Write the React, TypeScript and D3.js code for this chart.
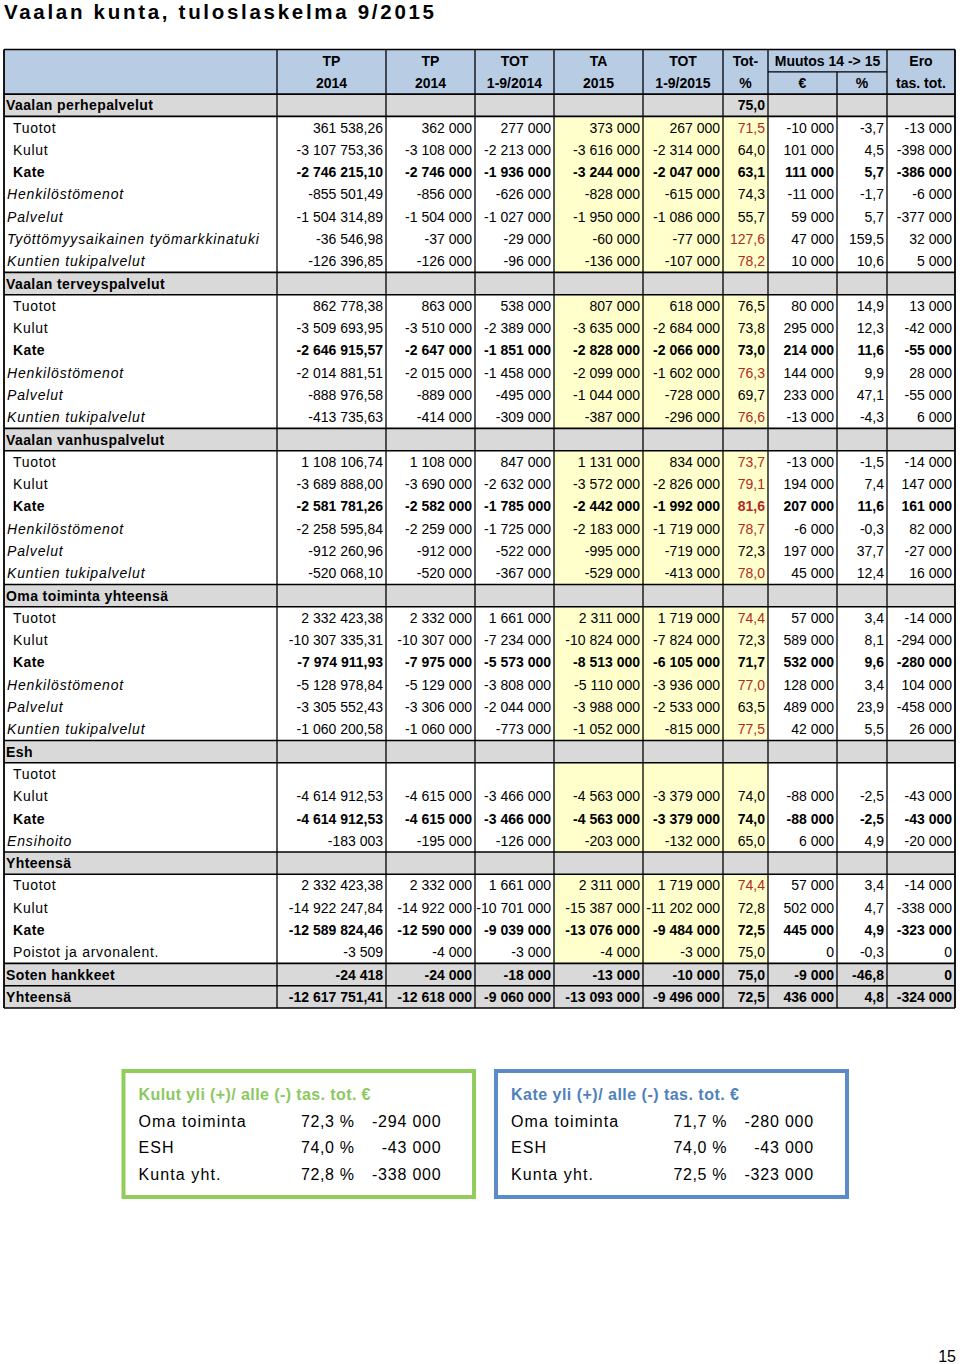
import React from "react";
import * as d3 from "d3";

// ---------- DATA ----------
const titleText = "Vaalan kunta, tuloslaskelma 9/2015";

const headerTop = ["TP", "TP", "TOT", "TA", "TOT", "Tot-", "Muutos 14 -> 15", "Ero"];
const headerBottom = ["2014", "2014", "1-9/2014", "2015", "1-9/2015", "%", "€", "%", "tas. tot."];

const rowLabels = [
  "Vaalan perhepalvelut",
  "Tuotot", "Kulut", "Kate", "Henkilöstömenot", "Palvelut", "Työttömyysaikainen työmarkkinatuki", "Kuntien tukipalvelut",
  "Vaalan terveyspalvelut",
  "Tuotot", "Kulut", "Kate", "Henkilöstömenot", "Palvelut", "Kuntien tukipalvelut",
  "Vaalan vanhuspalvelut",
  "Tuotot", "Kulut", "Kate", "Henkilöstömenot", "Palvelut", "Kuntien tukipalvelut",
  "Oma toiminta yhteensä",
  "Tuotot", "Kulut", "Kate", "Henkilöstömenot", "Palvelut", "Kuntien tukipalvelut",
  "Esh",
  "Tuotot", "Kulut", "Kate", "Ensihoito",
  "Yhteensä",
  "Tuotot", "Kulut", "Kate", "Poistot ja arvonalent.",
  "Soten hankkeet",
  "Yhteensä",
];

// row kinds: section | plain | bold | italic | total
const rowKinds = [
  "section",
  "plain", "plain", "bold", "italic", "italic", "italic", "italic",
  "section",
  "plain", "plain", "bold", "italic", "italic", "italic",
  "section",
  "plain", "plain", "bold", "italic", "italic", "italic",
  "section",
  "plain", "plain", "bold", "italic", "italic", "italic",
  "section",
  "plain", "plain", "bold", "italic",
  "section",
  "plain", "plain", "bold", "plain",
  "total",
  "total",
];

const tp2014Actual = [
  null,
  361538.26, -3107753.36, -2746215.1, -855501.49, -1504314.89, -36546.98, -126396.85,
  null,
  862778.38, -3509693.95, -2646915.57, -2014881.51, -888976.58, -413735.63,
  null,
  1108106.74, -3689888.0, -2581781.26, -2258595.84, -912260.96, -520068.1,
  null,
  2332423.38, -10307335.31, -7974911.93, -5128978.84, -3305552.43, -1060200.58,
  null,
  null, -4614912.53, -4614912.53, -183003,
  null,
  2332423.38, -14922247.84, -12589824.46, -3509,
  -24418,
  -12617751.41,
];
// rows of the first column shown in whole euros
const wholeEuroRows = [33, 38, 39];

const tp2014 = [
  null,
  362000, -3108000, -2746000, -856000, -1504000, -37000, -126000,
  null,
  863000, -3510000, -2647000, -2015000, -889000, -414000,
  null,
  1108000, -3690000, -2582000, -2259000, -912000, -520000,
  null,
  2332000, -10307000, -7975000, -5129000, -3306000, -1060000,
  null,
  null, -4615000, -4615000, -195000,
  null,
  2332000, -14922000, -12590000, -4000,
  -24000,
  -12618000,
];

const tot2014 = [
  null,
  277000, -2213000, -1936000, -626000, -1027000, -29000, -96000,
  null,
  538000, -2389000, -1851000, -1458000, -495000, -309000,
  null,
  847000, -2632000, -1785000, -1725000, -522000, -367000,
  null,
  1661000, -7234000, -5573000, -3808000, -2044000, -773000,
  null,
  null, -3466000, -3466000, -126000,
  null,
  1661000, -10701000, -9039000, -3000,
  -18000,
  -9060000,
];

const ta2015 = [
  null,
  373000, -3616000, -3244000, -828000, -1950000, -60000, -136000,
  null,
  807000, -3635000, -2828000, -2099000, -1044000, -387000,
  null,
  1131000, -3572000, -2442000, -2183000, -995000, -529000,
  null,
  2311000, -10824000, -8513000, -5110000, -3988000, -1052000,
  null,
  null, -4563000, -4563000, -203000,
  null,
  2311000, -15387000, -13076000, -4000,
  -13000,
  -13093000,
];

const tot2015 = [
  null,
  267000, -2314000, -2047000, -615000, -1086000, -77000, -107000,
  null,
  618000, -2684000, -2066000, -1602000, -728000, -296000,
  null,
  834000, -2826000, -1992000, -1719000, -719000, -413000,
  null,
  1719000, -7824000, -6105000, -3936000, -2533000, -815000,
  null,
  null, -3379000, -3379000, -132000,
  null,
  1719000, -11202000, -9484000, -3000,
  -10000,
  -9496000,
];

const totPct = [
  75.0,
  71.5, 64.0, 63.1, 74.3, 55.7, 127.6, 78.2,
  null,
  76.5, 73.8, 73.0, 76.3, 69.7, 76.6,
  null,
  73.7, 79.1, 81.6, 78.7, 72.3, 78.0,
  null,
  74.4, 72.3, 71.7, 77.0, 63.5, 77.5,
  null,
  null, 74.0, 74.0, 65.0,
  null,
  74.4, 72.8, 72.5, 75.0,
  75.0,
  72.5,
];

const muutosEur = [
  null,
  -10000, 101000, 111000, -11000, 59000, 47000, 10000,
  null,
  80000, 295000, 214000, 144000, 233000, -13000,
  null,
  -13000, 194000, 207000, -6000, 197000, 45000,
  null,
  57000, 589000, 532000, 128000, 489000, 42000,
  null,
  null, -88000, -88000, 6000,
  null,
  57000, 502000, 445000, 0,
  -9000,
  436000,
];

const muutosPct = [
  null,
  -3.7, 4.5, 5.7, -1.7, 5.7, 159.5, 10.6,
  null,
  14.9, 12.3, 11.6, 9.9, 47.1, -4.3,
  null,
  -1.5, 7.4, 11.6, -0.3, 37.7, 12.4,
  null,
  3.4, 8.1, 9.6, 3.4, 23.9, 5.5,
  null,
  null, -2.5, -2.5, 4.9,
  null,
  3.4, 4.7, 4.9, -0.3,
  -46.8,
  4.8,
];

const eroTasTot = [
  null,
  -13000, -398000, -386000, -6000, -377000, 32000, 5000,
  null,
  13000, -42000, -55000, 28000, -55000, 6000,
  null,
  -14000, 147000, 161000, 82000, -27000, 16000,
  null,
  -14000, -294000, -280000, 104000, -458000, 26000,
  null,
  null, -43000, -43000, -20000,
  null,
  -14000, -338000, -323000, 0,
  0,
  -324000,
];

const benchmarkPct = 75;

const boxLabels = ["Oma toiminta", "ESH", "Kunta yht."];
const kulutTitle = "Kulut yli (+)/ alle (-) tas. tot. €";
const kulutPct = [72.3, 74.0, 72.8];
const kulutEro = [-294000, -43000, -338000];
const kateTitle = "Kate yli (+)/ alle (-) tas. tot. €";
const katePct = [71.7, 74.0, 72.5];
const kateEro = [-280000, -43000, -323000];

const pageNumber = "15";

// ---------- LAYOUT ----------
const FONT = "'Liberation Sans', Arial, Helvetica, sans-serif";
const colEdges = [4, 277, 386, 475, 554, 643, 723, 768, 837, 887, 955];
const BLUE_HDR = "#B8CCE4";
const GREY = "#D9D9D9";
const YELLOW = "#FFFFCC";
const RED = "#B02A25";

const loc = d3.formatLocale({
  decimal: ",",
  thousands: " ",
  grouping: [3],
  currency: ["", " €"],
  minus: "-",
});
const f0 = loc.format(",.0f");
const f1 = loc.format(",.1f");
const f2 = loc.format(",.2f");

export default function App() {
  const y = d3
    .scaleBand<number>()
    .domain(d3.range(rowLabels.length + 2))
    .range([49.5, 1008])
    .paddingInner(0)
    .paddingOuter(0);
  const bw = y.bandwidth();
  const rowTop = (i: number) => y(i + 2) as number;
  const tableTop = y(0) as number;
  const headerMid = y(1) as number;
  const headerBottomY = y(2) as number;
  const tableBottom = 1008;
  const left = colEdges[0];
  const right = colEdges[colEdges.length - 1];

  const dataCols: { values: (number | null)[]; fmt: (v: number, i: number) => string }[] = [
    { values: tp2014Actual, fmt: (v, i) => (wholeEuroRows.includes(i) ? f0(v) : f2(v)) },
    { values: tp2014, fmt: (v) => f0(v) },
    { values: tot2014, fmt: (v) => f0(v) },
    { values: ta2015, fmt: (v) => f0(v) },
    { values: tot2015, fmt: (v) => f0(v) },
    { values: totPct, fmt: (v) => f1(v) },
    { values: muutosEur, fmt: (v) => f0(v) },
    { values: muutosPct, fmt: (v) => f1(v) },
    { values: eroTasTot, fmt: (v) => f0(v) },
  ];

  const isGreyRow = (i: number) => rowKinds[i] === "section" || rowKinds[i] === "total";

  const hLines: number[] = [tableTop, headerBottomY, tableBottom];
  rowKinds.forEach((k, i) => {
    if (k === "section" || k === "total") {
      hLines.push(rowTop(i));
      hLines.push(rowTop(i) + bw);
    }
  });
  const hUnique = Array.from(new Set(hLines.map((v) => Math.round(v * 10) / 10)));

  const boxRowY = d3.scalePoint<number>().domain([0, 1, 2]).range([1126.5, 1179.5]);

  const renderBox = (
    x0: number,
    x1: number,
    color: string,
    titleColor: string,
    title: string,
    pcts: number[],
    eros: number[],
    titleLen: number
  ) => {
    const tx = x0 + 15;
    return (
      <g>
        <rect x={x0} y={1071} width={x1 - x0} height={126} fill="#fff" stroke={color} strokeWidth={4} />
        <text
          x={tx}
          y={1100}
          fontFamily={FONT}
          fontSize={16}
          fontWeight="bold"
          fill={titleColor}
          textLength={titleLen}
          lengthAdjust="spacing"
        >
          {title}
        </text>
        {boxLabels.map((lab, i) => (
          <g key={lab}>
            <text x={tx} y={boxRowY(i)} fontFamily={FONT} fontSize={16} letterSpacing={1.1} fill="#000">
              {lab}
            </text>
            <text
              x={tx + 216}
              y={boxRowY(i)}
              fontFamily={FONT}
              fontSize={16}
              letterSpacing={0.6}
              textAnchor="end"
              fill="#000"
            >
              {f1(pcts[i]) + " %"}
            </text>
            <text
              x={tx + 303}
              y={boxRowY(i)}
              fontFamily={FONT}
              fontSize={16}
              letterSpacing={0.8}
              textAnchor="end"
              fill="#000"
            >
              {f0(eros[i])}
            </text>
          </g>
        ))}
      </g>
    );
  };

  return (
    <svg
      width={960}
      height={1364}
      style={{ position: "absolute", left: 0, top: 0, background: "#fff" }}
    >
      <rect x={0} y={0} width={960} height={1364} fill="#fff" />
      {/* Title */}
      <text
        x={4}
        y={19}
        fontFamily={FONT}
        fontSize={20.5}
        fontWeight="bold"
        fill="#000"
        textLength={430}
        lengthAdjust="spacing"
      >
        {titleText}
      </text>

      {/* Header fill */}
      <rect x={left} y={tableTop} width={right - left} height={headerBottomY - tableTop} fill={BLUE_HDR} />

      {/* Row fills */}
      {rowLabels.map((_, i) => {
        const top = rowTop(i);
        if (isGreyRow(i)) {
          return <rect key={i} x={left} y={top} width={right - left} height={bw} fill={GREY} />;
        }
        return (
          <rect key={i} x={colEdges[4]} y={top} width={colEdges[7] - colEdges[4]} height={bw + 0.5} fill={YELLOW} />
        );
      })}

      {/* Header text */}
      {headerTop.map((t, c) => {
        let cx: number;
        if (c < 6) cx = (colEdges[c + 1] + colEdges[c + 2]) / 2;
        else if (c === 6) cx = (colEdges[7] + colEdges[9]) / 2;
        else cx = (colEdges[9] + colEdges[10]) / 2;
        return (
          <text
            key={"ht" + c}
            x={cx}
            y={tableTop + bw / 2 + 5}
            textAnchor="middle"
            fontFamily={FONT}
            fontSize={14}
            fontWeight="bold"
            fill="#000"
          >
            {t}
          </text>
        );
      })}
      {headerBottom.map((t, c) => (
        <text
          key={"hb" + c}
          x={(colEdges[c + 1] + colEdges[c + 2]) / 2}
          y={headerMid + bw / 2 + 5}
          textAnchor="middle"
          fontFamily={FONT}
          fontSize={14}
          fontWeight="bold"
          fill="#000"
        >
          {t}
        </text>
      ))}

      {/* Row labels & values */}
      {rowLabels.map((lab, i) => {
        const kind = rowKinds[i];
        const base = rowTop(i) + bw / 2 + 5;
        const bold = kind === "section" || kind === "total" || kind === "bold";
        const italic = kind === "italic";
        const lx = kind === "section" || kind === "total" ? 6 : italic ? 7 : 13;
        return (
          <g key={"r" + i}>
            <text
              x={lx}
              y={base}
              fontFamily={FONT}
              fontSize={14}
              fontWeight={bold ? "bold" : "normal"}
              fontStyle={italic ? "italic" : "normal"}
              letterSpacing={bold ? 0.4 : italic ? 0.85 : 0.7}
              fill="#000"
            >
              {lab}
            </text>
            {dataCols.map((col, c) => {
              const v = col.values[i];
              if (v === null || v === undefined) return null;
              let fill = "#000";
              if (c === 5 && kind !== "section" && kind !== "total") {
                const isIncome = lab === "Tuotot";
                if ((isIncome && v < benchmarkPct) || (!isIncome && v > benchmarkPct)) fill = RED;
              }
              return (
                <text
                  key={c}
                  x={colEdges[c + 2] - 3}
                  y={base}
                  textAnchor="end"
                  fontFamily={FONT}
                  fontSize={14}
                  fontWeight={bold ? "bold" : "normal"}
                  fill={fill}
                >
                  {col.fmt(v, i)}
                </text>
              );
            })}
          </g>
        );
      })}

      {/* Grid lines */}
      {hUnique.map((yy, k) => (
        <line key={"h" + k} x1={left} x2={right} y1={yy} y2={yy} stroke="#000" strokeWidth={1.6} />
      ))}
      <line x1={colEdges[7]} x2={colEdges[9]} y1={headerMid} y2={headerMid} stroke="#000" strokeWidth={1.3} />
      {colEdges.map((x, k) => (
        <line
          key={"v" + k}
          x1={x}
          x2={x}
          y1={k === 8 ? headerMid : tableTop}
          y2={tableBottom}
          stroke="#000"
          strokeWidth={k === 0 || k === colEdges.length - 1 ? 1.8 : 1.3}
        />
      ))}

      {/* Summary boxes */}
      {renderBox(123.5, 474, "#92CC5C", "#8CC860", kulutTitle, kulutPct, kulutEro, 232)}
      {renderBox(496, 847, "#5B8BC9", "#4F81BD", kateTitle, katePct, kateEro, 228)}

      {/* Page number */}
      <text x={956} y={1362} textAnchor="end" fontFamily={FONT} fontSize={16} fill="#000">
        {pageNumber}
      </text>
    </svg>
  );
}
